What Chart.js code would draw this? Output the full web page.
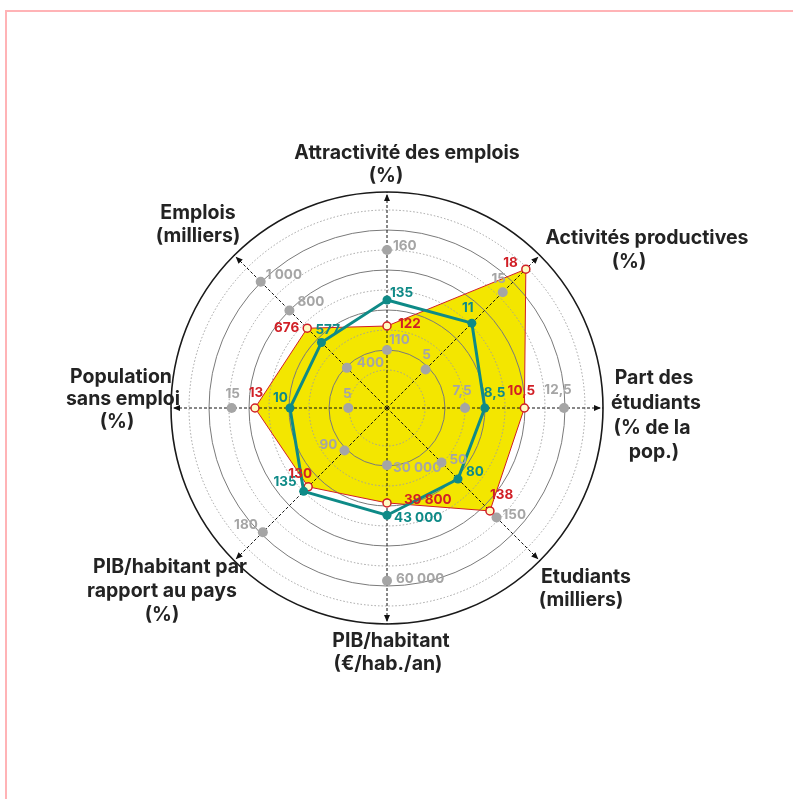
<!DOCTYPE html>
<html>
<head>
<meta charset="utf-8">
<script src="https://cdn.jsdelivr.net/npm/chart.js@4.4.0/dist/chart.umd.min.js"></script>
<style>
  html, body { margin: 0; padding: 0; background: #fff; overflow: hidden; }
  #frame { position: absolute; left: 5px; top: 10px; right: 0; bottom: 0;
           border-left: 2px solid #ffb3b6; border-top: 2px solid #ffb3b6; filter: blur(0.6px); }
  #wrap { position: absolute; left: 0; top: 0; width: 793px; height: 799px; }
</style>
</head>
<body>
<div id="frame"></div>
<div id="wrap"><canvas id="radar" width="793" height="799"></canvas></div>
<script>
// axes (clockwise from top)
const categories = [
  ['Attractivité des emplois', '(%)'],
  ['Activités productives', '(%)'],
  ['Part des', 'étudiants', '(% de la', 'pop.)'],
  ['Etudiants', '(milliers)'],
  ['PIB/habitant', '(€/hab./an)'],
  ['PIB/habitant par', 'rapport au pays', '(%)'],
  ['Population', 'sans emploi', '(%)'],
  ['Emplois', '(milliers)']
];
// each axis has its own scale: value at centre / value at outer circle
const axisMin = [81, 0, 3.56, -48.9, 15175, 43.1, 1.68, 120.6];
const axisMax = [189, 19.8, 14.47, 228.4, 71210, 211.5, 20.2, 1184];

const redValues  = [122, 18, 10.5, 138, 39800, 130, 13, 676];
const tealValues = [135, 11, 8.5, 80, 43000, 135, 10, 577];

// grey reference ticks on each axis
const tickLow   = [110, 5, 7.5, 50, 30000, 90, 5, 400];
const tickHigh  = [160, 15, 12.5, 150, 60000, 180, 15, 1000];
const tickExtra = [null, null, null, null, null, null, null, 800];

const SCALE_MAX = 216;
const rings = [0, 38, 58, 78, 98, 118, 138, 158, 178, 198, 216];

const YELLOW = '#f3e600', RED = '#d11f26', TEAL = '#0e8a87', GREY = '#a5a5a5';
const FONT = 'Inter';

function norm(values) {
  return values.map((v, i) => v == null ? null : (v - axisMin[i]) / (axisMax[i] - axisMin[i]) * SCALE_MAX);
}

function fmt(v) {
  let s = String(v).replace('.', ',');
  if (v >= 1000) s = s.replace(/\B(?=(\d{3})+(?!\d))/g, ' ');
  return s;
}

// label offsets [dx, dy, align]
const redPos  = [[11,-2,'left'],[-8,-6,'right'],[-3,-17,'center'],[0,-16,'left'],[17,-3,'left'],[-8,-13,'center'],[1,-15,'center'],[-8,0,'right']];
const tealPos = [[3,-7,'left'],[-4,-15,'center'],[-1,-15,'left'],[8,-7,'left'],[7,3,'left'],[-7,-9,'right'],[-2,-10,'right'],[-6,-13,'left']];
const lowPos  = [[2,-10,'left'],[1,-14,'center'],[-3,-17,'center'],[8,-3,'left'],[6,3,'left'],[-7,-6,'right'],[-1,-14,'center'],[10,-5,'left']];
const highPos = [[6,-4,'left'],[-4,-13,'center'],[-6,-18,'center'],[6,-3,'left'],[9,-2,'left'],[-5,-7,'right'],[1,-14,'center'],[5,-7,'left']];
const extraPos = [null,null,null,null,null,null,null,[8,-8,'left']];

// axis title lines, offsets from the centre
const titlePos = [
  [[20,-255],[-1,-232]],
  [[260,-170],[242,-146]],
  [[267,-30],[269,-5],[265,20],[267,44]],
  [[199,169],[194,192]],
  [[4,233],[1,256]],
  [[-217,159],[-225,183],[-225,207]],
  [[-266,-31],[-264,-9],[-270,14]],
  [[-189,-195],[-189,-172]]
];

let gridPass = false;

const gridLayer = {
  id: 'gridLayer',
  afterDatasetDraw(chart, args) {
    if (chart.data.datasets[args.index].label !== 'fill') return;
    gridPass = true;
    chart.scales.r.drawGrid();
    gridPass = false;
  }
};

const decorations = {
  id: 'decorations',
  afterDraw(chart) {
    const ctx = chart.ctx;
    const r = chart.scales.r;

    // arrow heads at the end of each axis
    ctx.save();
    ctx.fillStyle = '#111';
    for (let i = 0; i < categories.length; i++) {
      const a = r.getIndexAngle(i) - Math.PI / 2;
      const tip = r.getPointPosition(i, 214);
      ctx.beginPath();
      ctx.moveTo(tip.x, tip.y);
      ctx.lineTo(tip.x - 7 * Math.cos(a) - 3 * Math.sin(a), tip.y - 7 * Math.sin(a) + 3 * Math.cos(a));
      ctx.lineTo(tip.x - 7 * Math.cos(a) + 3 * Math.sin(a), tip.y - 7 * Math.sin(a) - 3 * Math.cos(a));
      ctx.closePath();
      ctx.fill();
    }
    ctx.restore();

    // value labels
    chart.data.datasets.forEach((ds, di) => {
      if (!ds.raw) return;
      const meta = chart.getDatasetMeta(di);
      ctx.save();
      ctx.font = 'bold 13.5px ' + FONT;
      ctx.fillStyle = ds.labelColor;
      ctx.textBaseline = 'middle';
      ds.raw.forEach((v, i) => {
        if (v == null) return;
        const p = meta.data[i];
        const o = ds.labelPos[i];
        ctx.textAlign = o[2];
        ctx.fillText(fmt(v), p.x + o[0], p.y + o[1]);
      });
      ctx.restore();
    });

    // axis titles
    ctx.save();
    ctx.font = 'bold 19.5px ' + FONT;
    ctx.fillStyle = '#232323';
    ctx.textAlign = 'center';
    ctx.textBaseline = 'middle';
    chart.data.labels.forEach((lines, i) => {
      lines.forEach((t, j) => {
        const o = titlePos[i][j];
        ctx.fillText(t, r.xCenter + o[0], r.yCenter + o[1]);
      });
    });
    ctx.restore();
  }
};

const ringColor = ctx => {
  if (!gridPass) return 'rgba(0,0,0,0)';
  const v = rings[ctx.index];
  if (v === SCALE_MAX) return '#1a1a1a';
  return (rings.indexOf(v) % 2 === 0) ? '#7a7a7a' : '#a0a0a0';
};

const tickSet = (vals, pos) => ({
  label: 'ticks',
  data: norm(vals),
  raw: vals, labelPos: pos, labelColor: GREY,
  showLine: false, fill: false, backgroundColor: 'rgba(0,0,0,0)', borderWidth: 0,
  pointRadius: 5, pointBackgroundColor: GREY, pointBorderWidth: 0,
  order: 3
});

new Chart(document.getElementById('radar'), {
  type: 'radar',
  data: {
    labels: categories,
    datasets: [
      {
        label: 'teal',
        data: norm(tealValues),
        raw: tealValues, labelPos: tealPos, labelColor: TEAL,
        borderColor: TEAL, borderWidth: 3, fill: false, backgroundColor: 'rgba(0,0,0,0)',
        pointRadius: 4.5, pointBackgroundColor: TEAL, pointBorderColor: TEAL, pointBorderWidth: 0,
        order: 1
      },
      {
        label: 'red',
        data: norm(redValues),
        raw: redValues, labelPos: redPos, labelColor: RED,
        borderColor: RED, borderWidth: 1, fill: false, backgroundColor: 'rgba(0,0,0,0)',
        pointRadius: 4, pointBackgroundColor: '#fffbc4', pointBorderColor: RED, pointBorderWidth: 1.5,
        order: 2
      },
      tickSet(tickHigh, highPos),
      tickSet(tickLow, lowPos),
      tickSet(tickExtra, extraPos),
      {
        label: 'fill',
        data: norm(redValues),
        backgroundColor: YELLOW, borderWidth: 0, fill: true,
        pointRadius: 0,
        order: 9
      }
    ]
  },
  options: {
    responsive: false,
    animation: false,
    layout: { padding: { left: 171, top: 192, right: 190, bottom: 175 } },
    plugins: { legend: { display: false }, tooltip: { enabled: false } },
    scales: {
      r: {
        min: 0,
        max: SCALE_MAX,
        afterBuildTicks: s => { s.ticks = rings.map(v => ({ value: v })); },
        ticks: { display: false },
        pointLabels: { display: false },
        grid: {
          circular: true,
          color: ringColor,
          lineWidth: ctx => rings[ctx.index] === SCALE_MAX ? 1.6 : 1
        },
        border: {
          dash: ctx => {
            const v = rings[ctx.index];
            if (v === SCALE_MAX) return [];
            return (rings.indexOf(v) % 2 === 0) ? [] : [1.5, 2];
          }
        },
        angleLines: {
          color: () => gridPass ? '#111' : 'rgba(0,0,0,0)',
          lineWidth: 1,
          borderDash: [3, 2]
        }
      }
    }
  },
  plugins: [gridLayer, decorations]
});
</script>
</body>
</html>
